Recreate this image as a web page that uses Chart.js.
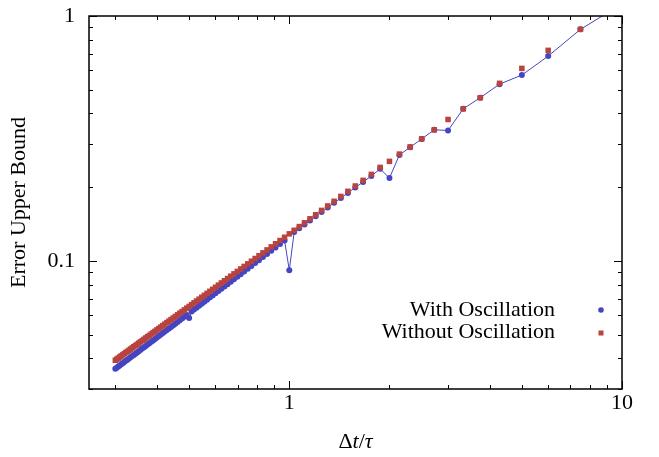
<!DOCTYPE html>
<html>
<head>
<meta charset="utf-8">
<script src="https://cdn.jsdelivr.net/npm/chart.js@4.4.1/dist/chart.umd.min.js"></script>
<style>
  html, body { margin: 0; padding: 0; background: #fff; }
</style>
</head>
<body>
<canvas id="chart" width="659" height="457"></canvas>
<script>
// dt / tau sample points
const dtTau = [
  0.3, 0.303, 0.3061, 0.3093, 0.3125, 0.3158, 0.3191, 0.3226, 0.3261, 0.3297,
  0.3333, 0.3371, 0.3409, 0.3448, 0.3488, 0.3529, 0.3571, 0.3614, 0.3659, 0.3704,
  0.375, 0.3797, 0.3846, 0.3896, 0.3947, 0.4, 0.4054, 0.411, 0.4167, 0.4225,
  0.4286, 0.4348, 0.4412, 0.4478, 0.4545, 0.4615, 0.4688, 0.4762, 0.4839, 0.4918,
  0.5, 0.5085, 0.5172, 0.5263, 0.5357, 0.5455, 0.5556, 0.566, 0.5769, 0.5882,
  0.6, 0.6122, 0.625, 0.6383, 0.6522, 0.6667, 0.6818, 0.6977, 0.7143, 0.7317,
  0.75, 0.7692, 0.7895, 0.8108, 0.8333, 0.8571, 0.8824, 0.9091, 0.9375, 0.9677,
  1, 1.0345, 1.0714, 1.1111, 1.1538, 1.2, 1.25, 1.3043, 1.3636, 1.4286,
  1.5, 1.5789, 1.6667, 1.7647, 1.875, 2, 2.1429, 2.3077, 2.5, 2.7273,
  3, 3.3333, 3.75, 4.2857, 5, 6, 7.5, 10
];

const withOsc = [
  0.0363, 0.03667, 0.03705, 0.03744, 0.03784, 0.03824, 0.03865, 0.03908, 0.03951, 0.03996,
  0.0404, 0.04087, 0.04134, 0.04182, 0.04231, 0.04282, 0.04334, 0.04387, 0.04443, 0.04498,
  0.04556, 0.04614, 0.04674, 0.04736, 0.048, 0.04866, 0.04933, 0.05002, 0.05073, 0.05145,
  0.05221, 0.05299, 0.05378, 0.05461, 0.05544, 0.05632, 0.05723, 0.05816, 0.05912, 0.06011,
  0.0585, 0.0622, 0.0633, 0.06444, 0.06563, 0.06686, 0.06814, 0.06945, 0.07083, 0.07226,
  0.07375, 0.0753, 0.07693, 0.07862, 0.08038, 0.08224, 0.08416, 0.0862, 0.08832, 0.09056,
  0.09291, 0.09538, 0.098, 0.10076, 0.10367, 0.10677, 0.11006, 0.11355, 0.11726, 0.12123,
  0.0916, 0.1314, 0.136, 0.141, 0.1464, 0.1521, 0.1584, 0.1652, 0.1726, 0.1806,
  0.1895, 0.1993, 0.2101, 0.2222, 0.2377, 0.218, 0.271, 0.291, 0.315, 0.343,
  0.341, 0.418, 0.464, 0.527, 0.574, 0.686, 0.882, 1.12
];

const withoutOsc = [
  0.0393, 0.03969, 0.04009, 0.04051, 0.04093, 0.04135, 0.04178, 0.04224, 0.04269, 0.04316,
  0.04363, 0.04412, 0.04462, 0.04512, 0.04564, 0.04618, 0.04672, 0.04728, 0.04786, 0.04845,
  0.04905, 0.04965, 0.05029, 0.05094, 0.0516, 0.05229, 0.05299, 0.05371, 0.05445, 0.0552,
  0.05599, 0.05679, 0.05762, 0.05847, 0.05934, 0.06025, 0.06119, 0.06214, 0.06313, 0.06416,
  0.06521, 0.06631, 0.06743, 0.0686, 0.06982, 0.07108, 0.07238, 0.07372, 0.07512, 0.07657,
  0.07809, 0.07965, 0.08129, 0.083, 0.08478, 0.08664, 0.08857, 0.09061, 0.09273, 0.09495,
  0.09729, 0.09973, 0.10232, 0.10503, 0.1079, 0.11092, 0.11413, 0.11751, 0.12111, 0.12492,
  0.129, 0.1334, 0.1381, 0.1431, 0.1486, 0.1544, 0.1608, 0.1677, 0.1752, 0.1834,
  0.1924, 0.2023, 0.2133, 0.2256, 0.241, 0.255, 0.273, 0.292, 0.315, 0.343,
  0.378, 0.418, 0.464, 0.531, 0.611, 0.724, 0.882, 1.12
];

const seriesNames = ['With Oscillation', 'Without Oscillation'];
const xTickLabels = [1, 10];
const yTickLabels = [0.1, 1];
const xMinorTicks = [0.3, 0.4, 0.5, 0.6, 0.7, 0.8, 0.9, 2, 3, 4, 5, 6, 7, 8, 9];
const yMinorTicks = [0.03, 0.04, 0.05, 0.06, 0.07, 0.08, 0.09, 0.2, 0.3, 0.4, 0.5, 0.6, 0.7, 0.8, 0.9];

const BLUE = '#4545c2';
const RED = '#b8433f';
const FONT = 'Liberation Serif, Times New Roman, Times, serif';

Chart.defaults.font.family = FONT;
Chart.defaults.font.size = 22;
Chart.defaults.color = '#000';

// box + inward ticks on all four sides, legend, x title with italics
const gnuplotLook = {
  id: 'gnuplotLook',
  afterDatasetsDraw(chart) {
    const { ctx, chartArea: a, scales } = chart;
    const sx = scales.x, sy = scales.y;
    ctx.save();
    ctx.strokeStyle = '#000';
    ctx.lineWidth = 1;
    const xt = (v, len) => {
      const p = Math.round(sx.getPixelForValue(v)) + 0.5;
      ctx.beginPath();
      ctx.moveTo(p, a.bottom); ctx.lineTo(p, a.bottom - len);
      ctx.moveTo(p, a.top); ctx.lineTo(p, a.top + len);
      ctx.stroke();
    };
    const yt = (v, len) => {
      const p = Math.round(sy.getPixelForValue(v)) + 0.5;
      ctx.beginPath();
      ctx.moveTo(a.left, p); ctx.lineTo(a.left + len, p);
      ctx.moveTo(a.right, p); ctx.lineTo(a.right - len, p);
      ctx.stroke();
    };
    xMinorTicks.forEach(v => xt(v, 4));
    xTickLabels.forEach(v => xt(v, 8));
    yMinorTicks.forEach(v => yt(v, 4));
    yTickLabels.forEach(v => yt(v, 8));
    ctx.lineWidth = 1.5;
    ctx.strokeRect(a.left, a.top, a.right - a.left, a.bottom - a.top);
    ctx.restore();
  },
  afterDraw(chart) {
    const { ctx } = chart;
    ctx.save();
    // legend
    ctx.font = '22px ' + FONT;
    ctx.fillStyle = '#000';
    ctx.textAlign = 'right';
    ctx.textBaseline = 'alphabetic';
    ctx.fillText(seriesNames[0], 555, 316);
    ctx.fillText(seriesNames[1], 555, 338);
    ctx.fillStyle = BLUE;
    ctx.beginPath();
    ctx.arc(601, 310, 2.8, 0, Math.PI * 2);
    ctx.fill();
    ctx.fillStyle = RED;
    ctx.fillRect(598.5, 330.5, 5, 5);

    // x title: Δt/τ
    const parts = [['Δ', ''], ['t', 'italic '], ['/', ''], ['τ', 'italic ']];
    let total = 0;
    parts.forEach(p => { ctx.font = p[1] + '22px ' + FONT; total += ctx.measureText(p[0]).width; });
    let cx = (chart.chartArea.left + chart.chartArea.right) / 2 - total / 2;
    ctx.fillStyle = '#000';
    ctx.textAlign = 'left';
    parts.forEach(p => {
      ctx.font = p[1] + '22px ' + FONT;
      ctx.fillText(p[0], cx, 448);
      cx += ctx.measureText(p[0]).width;
    });
    ctx.restore();
  }
};

const ctx = document.getElementById('chart').getContext('2d');
const chart = new Chart(ctx, {
  type: 'scatter',
  data: {
    datasets: [
      {
        label: seriesNames[0],
        data: dtTau.map((x, i) => ({ x: x, y: withOsc[i] })),
        showLine: true,
        borderColor: BLUE,
        borderWidth: 1,
        backgroundColor: BLUE,
        pointStyle: 'circle',
        pointRadius: 3,
        pointBorderWidth: 0,
        order: 1
      },
      {
        label: seriesNames[1],
        data: dtTau.map((x, i) => ({ x: x, y: withoutOsc[i] })),
        showLine: false,
        backgroundColor: RED,
        borderColor: RED,
        pointStyle: 'rect',
        pointRadius: 3.9,
        pointBorderWidth: 0,
        order: 0
      }
    ]
  },
  options: {
    responsive: false,
    animation: false,
    layout: { padding: { top: 16, right: 37, left: 0, bottom: 0 } },
    plugins: {
      legend: { display: false },
      tooltip: { enabled: false }
    },
    scales: {
      x: {
        type: 'logarithmic',
        min: 0.25,
        max: 10,
        grid: { display: false, drawTicks: false },
        border: { display: false },
        afterBuildTicks: s => { s.ticks = xTickLabels.map(v => ({ value: v })); },
        afterFit: s => { s.height = 68; s.paddingLeft = 0; s.paddingRight = 0; },
        ticks: { padding: 1, maxRotation: 0, callback: v => String(v) }
      },
      y: {
        type: 'logarithmic',
        min: 0.03,
        max: 1,
        grid: { display: false, drawTicks: false },
        border: { display: false },
        afterBuildTicks: s => { s.ticks = yTickLabels.map(v => ({ value: v })); },
        afterFit: s => { s.width = 89; s.paddingTop = 0; s.paddingBottom = 0; },
        ticks: { padding: 14, callback: v => String(v) },
        title: {
          display: true,
          text: 'Error Upper Bound',
          font: { size: 22 },
          padding: { top: 6, bottom: 0 }
        }
      }
    }
  },
  plugins: [gnuplotLook]
});
</script>
</body>
</html>
